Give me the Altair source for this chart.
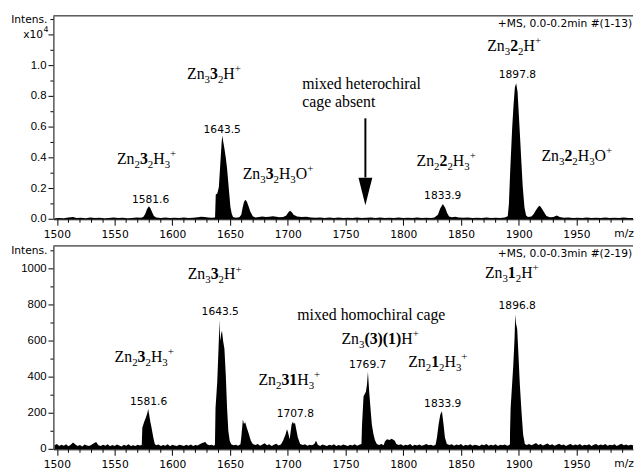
import altair as alt
import pandas as pd

# ---------------- data ----------------
# top trace: intensity read in units of 10^4 (as on its axis)
TOP_SPECTRUM = [
    (1498, .006), (1502, .009), (1506, .007), (1510, .011), (1514, .015), (1517, .009), (1521, .010),
    (1525, .007), (1529, .011), (1533, .008), (1537, .010), (1541, .007), (1545, .009), (1549, .012),
    (1553, .008), (1557, .010), (1561, .007), (1565, .009), (1569, .011), (1573, .010),
    (1575, .016), (1576.5, .035), (1578, .066), (1579.7, .084), (1581, .072), (1582.5, .046), (1584, .022),
    (1586, .012), (1590, .009), (1594, .011), (1598, .008), (1602, .010), (1606, .009), (1610, .011),
    (1614, .008), (1618, .010), (1622, .013), (1625, .016), (1628, .015), (1631, .011), (1634, .010),
    (1637, .012), (1637.6, .16), (1639, .17), (1640.3, .21), (1641.7, .38), (1642.7, .50), (1643.3, .545),
    (1644.2, .50), (1645.1, .46), (1646.3, .40), (1647.4, .33), (1648.9, .20), (1650.3, .08), (1651.5, .035),
    (1652.6, .014), (1655, .010), (1658, .013), (1659.7, .03), (1661, .08), (1662, .11), (1663.1, .127),
    (1664.5, .115), (1666, .085), (1667.5, .05), (1669.7, .02), (1672, .012), (1675, .015), (1678, .018),
    (1681, .014), (1684, .017), (1687, .020), (1690, .016), (1693, .013), (1696, .014), (1698.7, .025),
    (1700.5, .045), (1702, .056), (1703.5, .046), (1705, .030), (1708, .018), (1712, .014), (1716, .016),
    (1720, .012), (1724, .010), (1728, .012), (1732, .008), (1736, .011), (1740, .009), (1744, .012),
    (1748, .008), (1752, .010), (1756, .009), (1760, .011), (1764, .008), (1768, .010), (1772, .012),
    (1776, .009), (1780, .011), (1784, .008), (1788, .010), (1792, .009), (1796, .012), (1800, .008),
    (1804, .010), (1808, .009), (1812, .011), (1816, .008), (1820, .010), (1824, .009), (1827, .012),
    (1830, .03), (1832, .07), (1834.3, .099), (1836.3, .075), (1838, .04), (1839.7, .018), (1842, .013),
    (1845, .016), (1848, .012), (1852, .010), (1856, .011), (1860, .008), (1864, .010), (1868, .009),
    (1872, .011), (1876, .008), (1880, .010), (1884, .009), (1888, .012), (1890.5, .02),
    (1891.5, .10), (1892.6, .31), (1894.3, .59), (1895.5, .74), (1896.7, .86), (1897.8, .886), (1899.0, .83),
    (1900.1, .68), (1901.2, .53), (1902.4, .36), (1903.5, .21), (1905.0, .077), (1906.4, .024),
    (1908, .014), (1911, .018), (1913, .035), (1915, .06), (1917, .082), (1918.3, .088), (1920, .07),
    (1922, .045), (1924, .022), (1927, .013), (1930, .015), (1933, .024), (1935.5, .015), (1939, .010),
    (1943, .012), (1947, .008), (1951, .010), (1955, .009), (1959, .011), (1963, .008), (1967, .010),
    (1971, .009), (1975, .011), (1979, .008), (1983, .010), (1987, .009), (1991, .011), (1995, .008),
    (1999, .009),
]

# bottom trace: raw intensity
BOTTOM_SPECTRUM = [
    (1498, 22), (1500, 30), (1502, 18), (1504, 26), (1506, 20), (1508, 28), (1510, 17), (1512, 25),
    (1514, 38), (1516, 27), (1518, 19), (1520, 24), (1522, 16), (1524, 27), (1526, 21), (1528, 18),
    (1530, 26), (1532, 33), (1534, 40), (1536, 22), (1538, 18), (1540, 25), (1542, 20), (1544, 28),
    (1546, 17), (1548, 24), (1550, 19), (1552, 27), (1554, 21), (1556, 16), (1558, 25), (1560, 20),
    (1562, 28), (1564, 18), (1566, 23), (1568, 19), (1570, 26), (1572, 21),
    (1573.5, 24), (1574, 120), (1575.5, 150), (1577, 175), (1578.3, 200), (1579.1, 224), (1580, 190),
    (1580.8, 157), (1582, 120), (1583.5, 66), (1584.8, 29),
    (1586, 22), (1588, 27), (1590, 18), (1592, 24), (1594, 20), (1596, 28), (1598, 17), (1600, 25),
    (1602, 21), (1604, 19), (1606, 26), (1608, 22), (1610, 18), (1612, 25), (1614, 20), (1616, 27),
    (1618, 19), (1620, 24), (1622, 21), (1624, 30), (1626, 35), (1628.6, 40), (1630, 28), (1632, 22),
    (1634, 26), (1636, 20),
    (1636.9, 25), (1637.4, 229), (1638.9, 375), (1640, 557), (1640.9, 717), (1641.4, 600), (1642.3, 640),
    (1643, 657), (1644, 600), (1645.1, 557), (1646.3, 411), (1647.4, 229), (1648.5, 102), (1649.7, 47),
    (1651, 28), (1653, 22), (1655, 26), (1657, 20), (1659, 28),
    (1659.7, 65), (1661.1, 165), (1662, 140), (1663.1, 150), (1664.5, 120), (1666, 91), (1668, 47),
    (1669.7, 30), (1672, 24), (1674, 30), (1676, 20), (1678, 27), (1680, 33), (1682, 22), (1684, 28),
    (1686, 19), (1688, 25), (1690, 31), (1692, 21), (1694, 27),
    (1695.9, 47), (1698.1, 84), (1699.3, 111), (1700.2, 95), (1701.6, 56), (1703.3, 138), (1704.4, 153),
    (1705.3, 140), (1706.2, 147), (1707.3, 111), (1708.7, 65), (1710.7, 29),
    (1713, 24), (1715, 28), (1717, 20), (1719, 26), (1721, 22), (1723, 30), (1724.4, 47), (1726, 25),
    (1728, 19), (1730, 27), (1732, 22), (1734, 18), (1736, 26), (1738, 21), (1740, 28), (1742, 19),
    (1744, 24), (1746, 20), (1748, 27), (1750, 22), (1752, 18), (1754, 25), (1756, 21), (1758, 28),
    (1760, 20), (1762, 26),
    (1763.8, 30), (1764.3, 138), (1765.6, 293), (1767.7, 320), (1768.6, 360), (1769.4, 430), (1770.5, 320),
    (1771.6, 229), (1772.8, 138), (1774.2, 84), (1775.5, 50), (1777.1, 29),
    (1779, 24), (1781, 30), (1783, 22), (1784.2, 45), (1786, 56), (1788, 52), (1790, 58), (1792.7, 48),
    (1794, 30), (1796, 24), (1798, 28), (1800, 20), (1802, 26), (1804, 22), (1806, 29), (1808, 19),
    (1810, 25), (1812, 21), (1814, 27), (1816, 20), (1818, 24), (1820, 30), (1822, 22), (1824, 26),
    (1826, 20), (1828, 25),
    (1829.2, 65), (1830.6, 138), (1832.1, 193), (1833.5, 211), (1834.9, 138), (1836.1, 65), (1837.8, 29),
    (1840, 24), (1842, 28), (1844, 20), (1846, 27), (1848, 22), (1850, 30), (1852, 19), (1854, 25),
    (1856, 21), (1858, 28), (1860, 20), (1862, 26), (1864, 22), (1866, 18), (1868, 27), (1870, 23),
    (1872, 29), (1874, 20), (1876, 25), (1878, 21), (1880, 28), (1882, 19), (1884, 26), (1886, 22),
    (1888, 27), (1890, 20), (1892, 24),
    (1892.4, 30), (1892.5, 102), (1893.0, 229), (1893.9, 320), (1895.3, 466), (1896.4, 612), (1897.0, 748),
    (1897.6, 700), (1898.7, 666), (1899.8, 520), (1901.0, 357), (1902.4, 211), (1903.8, 84), (1905.3, 29),
    (1907, 24), (1909, 30), (1911, 22), (1913, 28), (1915, 35), (1917, 24), (1919, 30), (1921, 21),
    (1923, 27), (1925, 32), (1927, 22), (1929, 28), (1931, 20), (1933, 26), (1935, 31), (1937, 22),
    (1939, 27), (1941, 19), (1943, 25), (1945, 30), (1947, 21), (1949, 27), (1951, 23), (1953, 29),
    (1955, 20), (1957, 26), (1959, 22), (1961, 28), (1963, 19), (1965, 25), (1967, 30), (1969, 21),
    (1971, 27), (1973, 23), (1975, 29), (1977, 20), (1979, 26), (1981, 22), (1983, 28), (1985, 19),
    (1987, 25), (1989, 31), (1991, 22), (1993, 27), (1995, 21), (1997, 26), (1999, 23),
]

X_TICKS = [1500, 1550, 1600, 1650, 1700, 1750, 1800, 1850, 1900, 1950]
X_MINOR = [v for v in range(1510, 2000, 10) if v % 50]
# top axis in raw counts (label = counts / 10^4)
TOP_Y_MAJOR = [0, 2000, 4000, 6000, 8000, 10000, 12000]
TOP_Y_LABELS = ["0.0", "0.2", "0.4", "0.6", "0.8", "1.0", ""]
TOP_Y_MINOR = [1000, 3000, 5000, 7000, 9000, 11000, 13000]
BOT_Y_MAJOR = [0, 200, 400, 600, 800, 1000]
BOT_Y_LABELS = ["0", "200", "400", "600", "800", "1000"]
BOT_Y_MINOR = [100, 300, 500, 700, 900, 1100]
TOP_SCALE = 10000  # top values are read in units of 10^4

# formula labels: (m/z, intensity, segments) ; n normal, b bold, s subscript, p superscript
TOP_FORMULAS = [
    (1552.0, 3580, [("Zn", "n"), ("2", "s"), ("3", "b"), ("2", "s"), ("H", "n"), ("3", "s"), ("+", "p")]),
    (1612.7, 9110, [("Zn", "n"), ("3", "s"), ("3", "b"), ("2", "s"), ("H", "n"), ("+", "p")]),
    (1660.9, 2620, [("Zn", "n"), ("3", "s"), ("3", "b"), ("2", "s"), ("H", "n"), ("3", "s"), ("O", "n"), ("+", "p")]),
    (1712.5, 8460, [("mixed heterochiral", "n")]),
    (1712.5, 7280, [("cage absent", "n")]),
    (1811.5, 3470, [("Zn", "n"), ("2", "s"), ("2", "b"), ("2", "s"), ("H", "n"), ("3", "s"), ("+", "p")]),
    (1872.7, 10970, [("Zn", "n"), ("3", "s"), ("2", "b"), ("2", "s"), ("H", "n"), ("+", "p")]),
    (1919.7, 3790, [("Zn", "n"), ("3", "s"), ("2", "b"), ("2", "s"), ("H", "n"), ("3", "s"), ("O", "n"), ("+", "p")]),
]
BOT_FORMULAS = [
    (1550.0, 485, [("Zn", "n"), ("2", "s"), ("3", "b"), ("2", "s"), ("H", "n"), ("3", "s"), ("+", "p")]),
    (1613.3, 941, [("Zn", "n"), ("3", "s"), ("3", "b"), ("2", "s"), ("H", "n"), ("+", "p")]),
    (1708.2, 718, [("mixed homochiral cage", "n")]),
    (1746.5, 585, [("Zn", "n"), ("3", "s"), ("(3)(1)", "b"), ("H", "n"), ("+", "p")]),
    (1674.6, 357, [("Zn", "n"), ("2", "s"), ("31", "b"), ("H", "n"), ("3", "s"), ("+", "p")]),
    (1804.3, 454, [("Zn", "n"), ("2", "s"), ("1", "b"), ("2", "s"), ("H", "n"), ("3", "s"), ("+", "p")]),
    (1870.7, 950, [("Zn", "n"), ("3", "s"), ("1", "b"), ("2", "s"), ("H", "n"), ("+", "p")]),
]

TOP_PEAKS = [(1581.1, 1220, "1581.6"), (1643.2, 5830, "1643.5"), (1834.2, 1500, "1833.9"), (1898.9, 9360, "1897.8")]
BOT_PEAKS = [(1579.4, 263, "1581.6"), (1641.5, 762, "1643.5"), (1706.5, 193, "1707.8"),
             (1769.2, 467, "1769.7"), (1834.2, 252, "1833.9"), (1898.7, 792, "1896.8")]

TOP_MS = (1998.2, 12680, "+MS, 0.0-0.2min #(1-13)")
BOT_MS = (1998.2, 1082, "+MS, 0.0-0.3min #(2-19)")
TOP_INTENS = 13000
BOT_INTENS = 1100
TOP_EXP = 12000
ARROW = (1767.2, 6570, 2720, 1810)  # m/z, shaft top, shaft bottom, head centre

# ---------------- layout / style ----------------
X_DOMAIN = [1497, 1999]
W = 587
H = 206
TOP_DOMAIN = [0, 13240]
BOT_DOMAIN = [0, 1127]
PX_PER_MZ = W / (X_DOMAIN[1] - X_DOMAIN[0])
SERIF = "Liberation Serif"
SANS = "DejaVu Sans"
SANS_SIZE = 10.8
TICK_FONT = "Liberation Sans"
TICK_SIZE = 11.5
BIG = 16
SMALL = 11
SUB_SHIFT = 4
SUP_SHIFT = 7
TIMES_W = {"Z": 0.611, "n": 0.5, "H": 0.722, "O": 0.722, "+": 0.564, "(": 0.333, ")": 0.333}


def XF(field):
    return alt.X(field, title=None)


def YF(field):
    return alt.Y(field, title=None)


def formula_rows(items, dom_top):
    rows = []
    for mz, inten, segs in items:
        off = 0.0
        for txt, kind in segs:
            size = SMALL if kind in ("s", "p") else BIG
            shift = -SUB_SHIFT if kind == "s" else (SUP_SHIFT if kind == "p" else 0)
            rows.append(dict(x=mz + off / PX_PER_MZ, y=inten + shift * dom_top / H, t=txt, kind=kind))
            off += sum(TIMES_W.get(c, 0.5) for c in txt) * size
    return pd.DataFrame(rows)


def make_panel(df, y_domain, y_major, y_labels, y_minor, formulas, peaks, ms, intens, extra, tag):
    xs = alt.Scale(domain=X_DOMAIN, nice=False, zero=False)
    ys = alt.Scale(domain=y_domain, nice=False)
    area = alt.Chart(df).mark_area(color="black", interpolate="linear").encode(
        x=alt.X("mz:Q", scale=xs, title=None,
                axis=alt.Axis(values=X_TICKS, title=None, format="d", tickSize=6,
                              labelPadding=3, grid=False, labelFlush=False, labelOverlap=False)),
        y=alt.Y("intensity:Q", scale=ys, title=None,
                axis=alt.Axis(title=None, labels=False, ticks=False, grid=False)),
    )
    layers = [area]
    # x minor ticks
    layers.append(alt.Chart(pd.DataFrame({"mz": X_MINOR})).mark_rule(color="black", strokeWidth=1).encode(
        x=XF("mz:Q"), y=alt.value(H), y2=alt.value(H + 3.5)))
    # y ticks
    layers.append(alt.Chart(pd.DataFrame({"vm": y_minor})).mark_rule(color="black", strokeWidth=1).encode(
        y=YF("vm:Q"), x=alt.value(-3), x2=alt.value(0)))
    layers.append(alt.Chart(pd.DataFrame({"vt": y_major})).mark_rule(color="black", strokeWidth=1).encode(
        y=YF("vt:Q"), x=alt.value(-5), x2=alt.value(0)))
    # y tick labels, one mark per label
    for i, (v, lab) in enumerate(zip(y_major, y_labels)):
        if not lab:
            continue
        fld = f"{tag}yl{i}"
        layers.append(alt.Chart(pd.DataFrame({fld: [v]})).mark_text(
            text=lab, font=TICK_FONT, fontSize=TICK_SIZE, align="right", baseline="middle", color="black").encode(
            y=YF(f"{fld}:Q"), x=alt.value(-7)))
    # top frame line
    layers.append(alt.Chart(pd.DataFrame({"a": [0]})).mark_rule(color="black", strokeWidth=1).encode(
        x=alt.value(0), x2=alt.value(W), y=alt.value(0)))
    # formula labels
    fdf = formula_rows(formulas, y_domain[1])
    for kinds, size, weight in [(["n"], BIG, "normal"), (["b"], BIG, "bold"), (["s", "p"], SMALL, "normal")]:
        sub = fdf[fdf["kind"].isin(kinds)]
        if len(sub):
            layers.append(alt.Chart(sub).mark_text(font=SERIF, fontSize=size, fontWeight=weight, align="left",
                                                   baseline="alphabetic", color="black").encode(
                x=XF("x:Q"), y=YF("y:Q"), text="t:N"))
    # peak labels
    pdf = pd.DataFrame(peaks, columns=["x", "y", "t"])
    layers.append(alt.Chart(pdf).mark_text(font=SANS, fontSize=SANS_SIZE, align="center", baseline="middle",
                                           color="black").encode(
        x=XF("x:Q"), y=YF("y:Q"), text="t:N"))
    # acquisition text
    mdf = pd.DataFrame([ms], columns=["x", "y", "t"])
    layers.append(alt.Chart(mdf).mark_text(font=SANS, fontSize=SANS_SIZE, align="right", baseline="middle",
                                           color="black").encode(
        x=XF("x:Q"), y=YF("y:Q"), text="t:N"))
    # Intens. label
    layers.append(alt.Chart(pd.DataFrame({"yi": [intens], "t": ["Intens."]})).mark_text(
        font=SANS, fontSize=SANS_SIZE, align="right", baseline="middle", color="black").encode(
        x=alt.value(-6), y=YF("yi:Q"), text="t:N"))
    # m/z label
    layers.append(alt.Chart(pd.DataFrame({"t": ["m/z"]})).mark_text(
        font=SANS, fontSize=SANS_SIZE, align="center", baseline="top", color="black").encode(
        x=alt.value(578), y=alt.value(H + 9), text="t:N"))
    layers.extend(extra)
    return alt.layer(*layers).properties(width=W, height=H)


top_df = pd.DataFrame(TOP_SPECTRUM, columns=["mz", "intensity"])
top_df["intensity"] = top_df["intensity"] * TOP_SCALE
bot_df = pd.DataFrame(BOTTOM_SPECTRUM, columns=["mz", "intensity"])

top_extra = [
    alt.Chart(pd.DataFrame({"ye": [TOP_EXP], "t": ["x10"]})).mark_text(
        font=SANS, fontSize=SANS_SIZE, align="right", baseline="middle", color="black").encode(
        x=alt.value(-10.5), y=YF("ye:Q"), text="t:N"),
    alt.Chart(pd.DataFrame({"ye": [TOP_EXP], "t": ["4"]})).mark_text(
        font=SANS, fontSize=8, align="left", baseline="middle", dy=-4.5, color="black").encode(
        x=alt.value(-10), y=YF("ye:Q"), text="t:N"),
    alt.Chart(pd.DataFrame({"xa": [ARROW[0]], "ya": [ARROW[1]], "ya2": [ARROW[2]]})).mark_rule(
        color="black", strokeWidth=2).encode(x=XF("xa:Q"), y=YF("ya:Q"), y2="ya2:Q"),
    alt.Chart(pd.DataFrame({"xa": [ARROW[0]], "ya": [ARROW[3]]})).mark_point(
        shape="M-0.5,-1L0.5,-1L0,1Z", size=784, filled=True, color="black", opacity=1, strokeWidth=0).encode(
        x=XF("xa:Q"), y=YF("ya:Q")),
    # invisible anchor fixing the left/top extent of the figure
    alt.Chart(pd.DataFrame({"a": [0]})).mark_rule(strokeOpacity=0, strokeWidth=1).encode(
        x=alt.value(-45.5), y=alt.value(-4.5), y2=alt.value(0)),
]

top = make_panel(top_df, TOP_DOMAIN, TOP_Y_MAJOR, TOP_Y_LABELS, TOP_Y_MINOR,
                 TOP_FORMULAS, TOP_PEAKS, TOP_MS, TOP_INTENS, top_extra, "t")
bottom = make_panel(bot_df, BOT_DOMAIN, BOT_Y_MAJOR, BOT_Y_LABELS, BOT_Y_MINOR,
                    BOT_FORMULAS, BOT_PEAKS, BOT_MS, BOT_INTENS, [], "b")

chart = alt.vconcat(top, bottom, spacing=27, bounds="flush").properties(
    padding={"left": 0, "top": 0, "right": 0, "bottom": 0}, background="white"
).configure_view(stroke=None).configure_axis(
    domainColor="black", tickColor="black", labelColor="black", domainWidth=1, tickWidth=1,
    labelFont=SANS, labelFontSize=SANS_SIZE, labelOverlap=False,
)

chart.save("out.html", embed_options={"renderer": "svg", "actions": False})
